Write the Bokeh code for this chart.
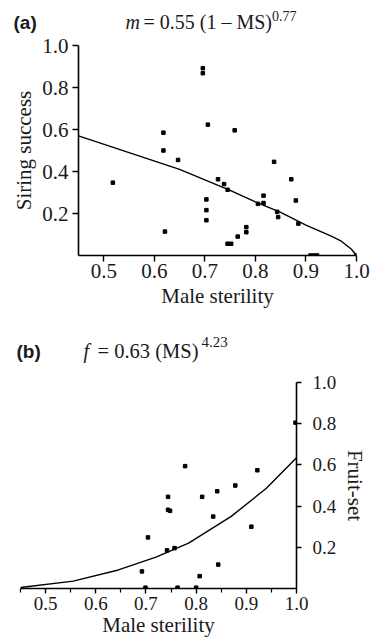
from bokeh.plotting import figure
from bokeh.models import FixedTicker, PrintfTickFormatter, Range1d
from bokeh.core.properties import value
from bokeh.embed import file_html
from bokeh.resources import INLINE

# ---- data panel (a)
ms_a = [0.518, 0.618, 0.618, 0.621, 0.647, 0.696, 0.696, 0.706, 0.703, 0.703, 0.703,
        0.726, 0.738, 0.745, 0.745, 0.752, 0.759, 0.765, 0.782, 0.782, 0.805, 0.816,
        0.816, 0.837, 0.843, 0.845, 0.871, 0.880, 0.885, 0.909, 0.916, 0.922, 1.0]
siring = [0.347, 0.585, 0.500, 0.114, 0.455, 0.892, 0.868, 0.623, 0.267, 0.216, 0.168,
          0.363, 0.340, 0.313, 0.056, 0.056, 0.596, 0.090, 0.135, 0.111, 0.246, 0.285,
          0.250, 0.446, 0.208, 0.183, 0.363, 0.262, 0.152, 0.0, 0.0, 0.0, 0.0]
fit_a_x = [0.45, 0.55, 0.65, 0.75, 0.80, 0.85, 0.90, 0.95, 0.97, 0.99, 1.0]
fit_a_y = [0.57, 0.49, 0.41, 0.31, 0.255, 0.205, 0.145, 0.092, 0.068, 0.03, 0.0]

# ---- data panel (b)
ms_b = [0.692, 0.699, 0.704, 0.742, 0.744, 0.744, 0.748, 0.757, 0.763, 0.778, 0.800,
        0.807, 0.812, 0.834, 0.842, 0.844, 0.878, 0.910, 0.922, 0.998]
fruitset = [0.083, 0.004, 0.248, 0.185, 0.445, 0.382, 0.377, 0.196, 0.004, 0.594, 0.004,
            0.060, 0.445, 0.349, 0.472, 0.116, 0.500, 0.300, 0.574, 0.805]
fit_b_x = [0.45, 0.555, 0.645, 0.72, 0.785, 0.87, 0.94, 1.0]
fit_b_y = [0.005, 0.036, 0.09, 0.152, 0.22, 0.35, 0.487, 0.635]

x_ticks = [0.5, 0.6, 0.7, 0.8, 0.9, 1.0]
x_minor_b = [0.45, 0.55, 0.65, 0.75, 0.85, 0.95]
y_ticks = [0.2, 0.4, 0.6, 0.8, 1.0]

SERIF = "Liberation Serif"
SANS = "Liberation Sans"
INK = "#1a1a1a"
W = 370


def style_axis(ax, tick_size):
    ax.axis_line_color = "black"
    ax.axis_line_width = 1.6
    ax.major_tick_line_color = "black"
    ax.major_tick_line_width = 1.4
    ax.minor_tick_line_color = "black"
    ax.minor_tick_line_width = 1.2
    ax.major_tick_in = 0
    ax.minor_tick_in = 0
    ax.major_label_text_font = SERIF
    ax.major_label_text_font_size = tick_size
    ax.major_label_text_color = INK
    ax.axis_label_text_font = SERIF
    ax.axis_label_text_font_size = "21px"
    ax.axis_label_text_font_style = "normal"
    ax.axis_label_text_color = INK


def header(height, items):
    h = figure(width=W, height=height, x_range=Range1d(0, W), y_range=Range1d(height, 0),
               x_axis_type=None, y_axis_type=None, output_backend="svg",
               toolbar_location=None, min_border=0)
    h.grid.visible = False
    h.outline_line_color = None
    for (x, y, text, font, size, style) in items:
        h.text(x=[x], y=[y], text=[text], text_font=value(font), text_font_size=size,
               text_font_style=style, text_baseline="alphabetic", text_align="left",
               text_color=INK)
    return h


# ---------------- header (a)
ha = header(34, [
    (13, 22, "(a)", SANS, "19px", "bold"),
    (125, 21.5, "m", SERIF, "20px", "italic"),
    (143, 21.5, "= 0.55 (1 \u2013 MS)", SERIF, "20px", "normal"),
    (271.5, 15.5, "0.77", SERIF, "14px", "normal"),
])

# ---------------- panel (a)
pa = figure(width=W, height=284, x_range=(0.45, 1.0), y_range=(0.0, 1.0),
            output_backend="svg", toolbar_location=None,
            min_border_left=78, min_border_right=14, min_border_top=11, min_border_bottom=63)
pa.grid.visible = False
pa.outline_line_color = None
for ax in (pa.xaxis[0], pa.yaxis[0]):
    style_axis(ax, "21px")
    ax.major_tick_out = 6
    ax.minor_tick_out = 0
pa.xaxis.ticker = FixedTicker(ticks=x_ticks, minor_ticks=[])
pa.yaxis.ticker = FixedTicker(ticks=y_ticks, minor_ticks=[])
pa.xaxis.formatter = PrintfTickFormatter(format="%.1f")
pa.yaxis.formatter = PrintfTickFormatter(format="%.1f")
pa.xaxis.major_label_standoff = 2
pa.xaxis.axis_label_standoff = 3
pa.yaxis.major_label_standoff = 4
pa.yaxis.axis_label_standoff = 3
pa.xaxis.axis_label = "Male sterility"
pa.yaxis.axis_label = "Siring success"

pa.line(fit_a_x, fit_a_y, line_color="black", line_width=1.4)
pa.scatter(ms_a, siring, marker="square", size=3.5, color="black")

# ---------------- header (b)
hb = header(52, [
    (16, 33, "(b)", SANS, "19px", "bold"),
    (83, 32.3, "f", SERIF, "20px", "italic"),
    (97, 32.3, "= 0.63 (MS)", SERIF, "20.5px", "normal"),
    (201, 23.5, "4.23", SERIF, "15px", "normal"),
])

# ---------------- panel (b)
pb = figure(width=W, height=271, x_range=(0.45, 1.0), y_range=(0.0, 1.0),
            y_axis_location="right",
            output_backend="svg", toolbar_location=None,
            min_border_left=20, min_border_right=70, min_border_top=12, min_border_bottom=53)
pb.grid.visible = False
pb.outline_line_color = None
for ax in (pb.xaxis[0], pb.yaxis[0]):
    style_axis(ax, "19px")
    ax.major_tick_out = 5
pb.xaxis.minor_tick_out = 4
pb.yaxis.minor_tick_out = 0
pb.xaxis.ticker = FixedTicker(ticks=x_ticks, minor_ticks=x_minor_b)
pb.yaxis.ticker = FixedTicker(ticks=y_ticks, minor_ticks=[])
pb.xaxis.formatter = PrintfTickFormatter(format="%.1f")
pb.yaxis.formatter = PrintfTickFormatter(format="%.1f")
pb.xaxis.major_label_standoff = 3
pb.xaxis.axis_label_standoff = 0
pb.yaxis.major_label_standoff = 11
pb.yaxis.axis_label_standoff = 4
pb.xaxis.axis_label = "Male sterility"
pb.yaxis.axis_label = "Fruit-set"

pb.line(fit_b_x, fit_b_y, line_color="black", line_width=1.4)
pb.scatter(ms_b, fruitset, marker="square", size=3.5, color="black")

# separate roots so that the plot frames are not aligned with one another
open("out.html", "w").write(file_html([ha, pa, hb, pb], INLINE))
